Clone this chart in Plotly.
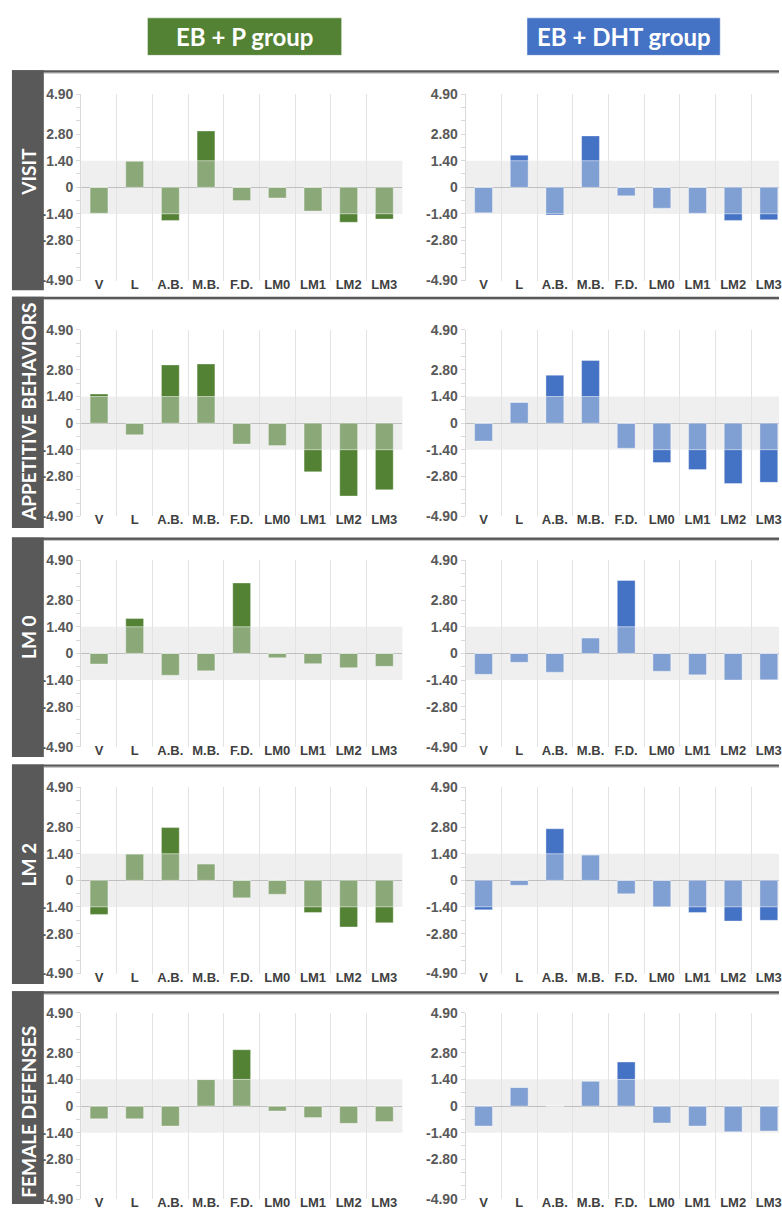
import plotly.graph_objects as go

# ---- data -------------------------------------------------------------
categories = ["V", "L", "A.B.", "M.B.", "F.D.", "LM0", "LM1", "LM2", "LM3"]
groups = ["EB + P group", "EB + DHT group"]
row_titles = ["VISIT", "APPETITIVE BEHAVIORS", "LM 0", "LM 2", "FEMALE DEFENSES"]

visit_p = [-1.36, 1.38, -1.74, 2.96, -0.70, -0.56, -1.25, -1.84, -1.67]
visit_dht = [-1.34, 1.69, -1.46, 2.70, -0.45, -1.10, -1.36, -1.74, -1.71]
appetitive_p = [1.53, -0.61, 3.06, 3.11, -1.10, -1.18, -2.56, -3.83, -3.50]
appetitive_dht = [-0.94, 1.10, 2.52, 3.29, -1.32, -2.07, -2.44, -3.17, -3.11]
lm0_p = [-0.56, 1.83, -1.15, -0.92, 3.70, -0.23, -0.54, -0.75, -0.68]
lm0_dht = [-1.10, -0.47, -0.99, 0.82, 3.83, -0.94, -1.13, -1.40, -1.39]
lm2_p = [-1.79, 1.39, 2.77, 0.87, -0.92, -0.73, -1.69, -2.45, -2.23]
lm2_dht = [-1.55, -0.26, 2.71, 1.34, -0.71, -1.39, -1.69, -2.14, -2.10]
defenses_p = [-0.67, -0.67, -1.05, 1.39, 2.96, -0.26, -0.61, -0.91, -0.82]
defenses_dht = [-1.05, 0.98, 0.00, 1.31, 2.31, -0.89, -1.05, -1.35, -1.31]

series = [
    (visit_p, visit_dht),
    (appetitive_p, appetitive_dht),
    (lm0_p, lm0_dht),
    (lm2_p, lm2_dht),
    (defenses_p, defenses_dht),
]

threshold = 1.4
y_limit = 4.9
tick_vals = [-4.9, -2.8, -1.4, 0, 1.4, 2.8, 4.9]
tick_text = ["-4.90", "-2.80", "-1.40", "0", "1.40", "2.80", "4.90"]
minor_vals = [-4.9, -4.2, -3.5, -2.8, -2.1, -1.4, -0.7, 0, 0.7, 1.4, 2.1, 2.8, 3.5, 4.2, 4.9]

# ---- styling / geometry (pixels) ---------------------------------------
W, H = 782, 1212
light_cols = ["#8ba878", "#809fd3"]
dark_cols = ["#548235", "#4472c4"]
header_cols = ["#548235", "#4472c4"]
header_boxes = [(148, 343), (529, 723)]
strip_col = "#595959"
band_col = "#efefef"
grid_col = "#e3e3e3"
text_col = "#595959"

panel_tops = [63, 292.5, 536.5, 766.5, 996.5]
panel_bottoms = [286, 527, 759, 989, 1212]
zero_y = [181.7, 420.7, 654.0, 884.0, 1112.7]
title_y = [165.5, 409.0, 638.0, 868.5, 1118.0]
half_h = 94.5
col_x = [(81.5, 404.0), (467.5, 782.0)]
cat_w = 35.8


def fx(px):
    return px / W


def fy(py):
    return 1 - py / H


narrow = "Liberation Sans Narrow, Arial Narrow, Liberation Sans, Arial"
ytick_font = dict(family=narrow, size=14, color=text_col, weight="bold")
xtick_font = dict(family=narrow, size=13, color="#404040", weight="bold")

fig = go.Figure()
layout = dict(
    width=W, height=H,
    margin=dict(l=0, r=0, t=0, b=0),
    paper_bgcolor="white", plot_bgcolor="rgba(0,0,0,0)",
    barmode="relative", bargap=0.5, showlegend=False,
)
shapes = []
annotations = []

for r, pair in enumerate(series):
    for c, values in enumerate(pair):
        idx = r * 2 + c + 1
        suffix = "" if idx == 1 else str(idx)
        xa, ya = f"x{suffix}", f"y{suffix}"
        light = [max(-threshold, min(threshold, v)) for v in values]
        dark = [v - l for v, l in zip(values, light)]
        for part, col in ((light, light_cols[c]), (dark, dark_cols[c])):
            fig.add_trace(go.Bar(
                x=categories, y=part, xaxis=xa, yaxis=ya,
                marker=dict(color=col, line=dict(color="rgba(255,255,255,0.45)", width=0.8)),
                width=0.5, hoverinfo="skip",
            ))

        x0, x1 = col_x[c]
        span = (x1 - x0) / cat_w
        layout[f"xaxis{suffix}"] = dict(
            domain=[fx(x0), fx(x1)], anchor=ya,
            type="category", range=[-0.5, -0.5 + span],
            tickson="boundaries", ticks="", showgrid=True, gridcolor=grid_col, gridwidth=1,
            showline=False, zeroline=False, fixedrange=True,
            tickfont=xtick_font, ticklabelstandoff=-6,
        )
        layout[f"yaxis{suffix}"] = dict(
            domain=[fy(zero_y[r] + half_h), fy(zero_y[r] - half_h)], anchor=xa,
            range=[-y_limit, y_limit], tickmode="array",
            tickvals=tick_vals, ticktext=tick_text, tickfont=ytick_font,
            ticks="outside", ticklen=4, tickcolor="#d9d9d9",
            minor=dict(tickmode="array", tickvals=minor_vals, ticks="outside",
                       ticklen=4, tickcolor="#d9d9d9", showgrid=False),
            showgrid=False, showline=True, linecolor="#d9d9d9", linewidth=1,
            zeroline=True, zerolinecolor="#bfbfbf", zerolinewidth=1,
            fixedrange=True,
        )
        # significance band around zero
        shapes.append(dict(
            type="rect", xref=f"{xa} domain", yref=ya, x0=0, x1=1,
            y0=-threshold, y1=threshold, fillcolor=band_col, line=dict(width=0),
            layer="below",
        ))

    # row frame: dark strip on the left and rule along the top
    shapes.append(dict(type="rect", xref="paper", yref="paper",
                       x0=fx(12), x1=fx(44), y0=fy(panel_bottoms[r]), y1=fy(panel_tops[r]),
                       fillcolor=strip_col, line=dict(width=0), layer="above"))
    shapes.append(dict(type="rect", xref="paper", yref="paper",
                       x0=fx(12), x1=1, y0=fy(panel_tops[r] + 2.5), y1=fy(panel_tops[r]),
                       fillcolor=strip_col, line=dict(width=0), layer="above"))
    shapes.append(dict(type="line", xref="paper", yref="paper",
                       x0=fx(44), x1=1, y0=fy(panel_tops[r] + 3), y1=fy(panel_tops[r] + 3),
                       line=dict(color="#bdbdbd", width=1), layer="above"))
    annotations.append(dict(
        text=row_titles[r], xref="paper", yref="paper",
        x=fx(28.5), y=fy(title_y[r]), xanchor="center", yanchor="middle",
        textangle=-90, showarrow=False,
        font=dict(family="Lato, Open Sans, sans-serif", size=19, color="white", weight="bold"),
    ))

# group headers
for c, name in enumerate(groups):
    bx0, bx1 = header_boxes[c]
    shapes.append(dict(type="rect", xref="paper", yref="paper",
                       x0=fx(bx0), x1=fx(bx1), y0=fy(48), y1=fy(10),
                       fillcolor=header_cols[c], line=dict(color="rgba(255,255,255,0.5)", width=1)))
    annotations.append(dict(
        text=name, xref="paper", yref="paper",
        x=fx((bx0 + bx1) / 2), y=fy(29), xanchor="center", yanchor="middle",
        showarrow=False,
        font=dict(family="Lato, Open Sans, sans-serif", size=24, color="white", weight="bold"),
    ))

layout["shapes"] = shapes
layout["annotations"] = annotations
fig.update_layout(**layout)
fig.write_html("out.html", config={"displayModeBar": False})
